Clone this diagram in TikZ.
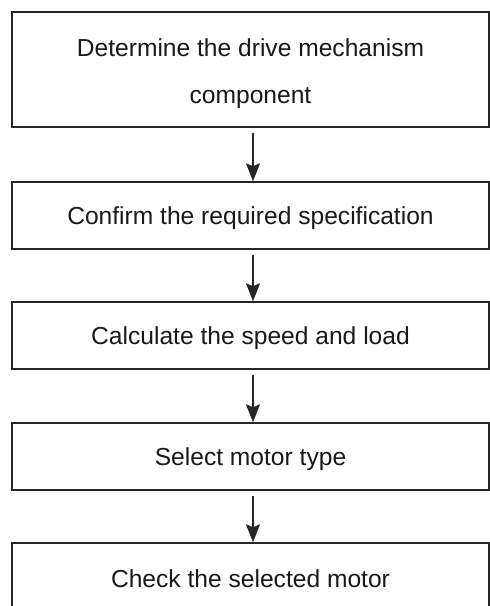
\documentclass[tikz,border=0pt]{standalone}
\usepackage{fontspec}
\setmainfont{Liberation Sans}
\usetikzlibrary{arrows.meta}
\begin{document}
\begin{tikzpicture}[x=1pt,y=-1pt,
  stepbox/.style={draw=black!85, line width=1.4pt, minimum width=477pt, inner sep=0pt, font=\fontsize{24.6}{47}\selectfont, align=center, text=black!90, text height=18.5pt, text depth=0pt},
  flow/.style={draw=black!85, line width=1.5pt, -{Stealth[length=18pt,width=14pt,inset=3pt]}, shorten <=5pt}]
\useasboundingbox (0,0) rectangle (490,606);
\begin{scope}
\clip (0,0) rectangle (490,606);
\node[stepbox, minimum height=115pt, text height=67pt] (b1) at (250.5,69.5) {Determine the drive mechanism\\component};
\node[stepbox, minimum height=67pt] (b2) at (250.5,215.5) {Confirm the required specification};
\node[stepbox, minimum height=67pt] (b3) at (250.5,335.5) {Calculate the speed and load};
\node[stepbox, minimum height=67pt] (b4) at (250.5,456.5) {Select motor type};
\node[stepbox, minimum height=72pt, text height=17pt] (b5) at (250.5,579) {Check the selected motor};
\end{scope}
\draw[flow] ([xshift=2.5pt]b1.south) -- ([xshift=2.5pt]b2.north);
\draw[flow] ([xshift=2.5pt]b2.south) -- ([xshift=2.5pt]b3.north);
\draw[flow] ([xshift=2.5pt]b3.south) -- ([xshift=2.5pt]b4.north);
\draw[flow] ([xshift=2.5pt]b4.south) -- ([xshift=2.5pt]b5.north);
\end{tikzpicture}
\end{document}
